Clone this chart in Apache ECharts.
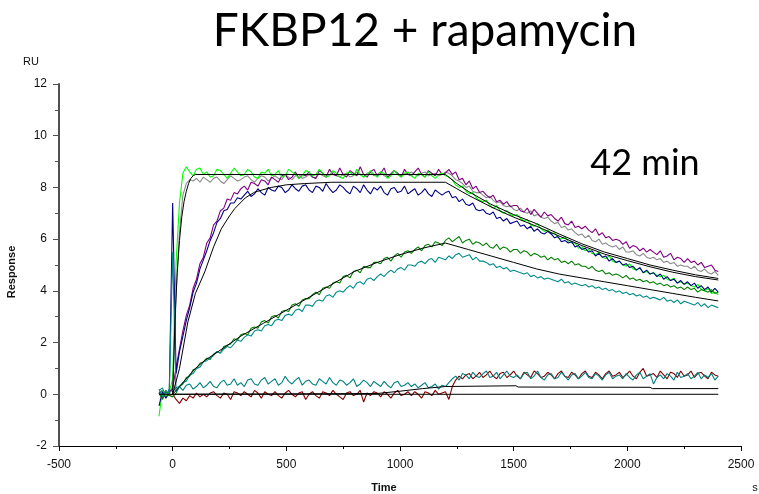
<!DOCTYPE html>
<html>
<head>
<meta charset="utf-8">
<script src="https://cdn.jsdelivr.net/npm/echarts@6/dist/echarts.min.js"></script>
<style>
  html, body { margin: 0; padding: 0; background: #fff; }
  #chart { width: 759px; height: 494px; }
</style>
</head>
<body>
<div id="chart"></div>
<script>
// Sensorgram sample times (s), one reading every 15 s
const seconds = [-60,-45,-30,-15,
  0,15,30,45,60,75,90,105,120,135,
  150,165,180,195,210,225,240,255,270,285,
  300,315,330,345,360,375,390,405,420,435,
  450,465,480,495,510,525,540,555,570,585,
  600,615,630,645,660,675,690,705,720,735,
  750,765,780,795,810,825,840,855,870,885,
  900,915,930,945,960,975,990,1005,1020,1035,
  1050,1065,1080,1095,1110,1125,1140,1155,1170,1185,
  1200,
  1215,1230,1245,1260,1275,1290,1305,1320,1335,1350,
  1365,1380,1395,1410,1425,1440,1455,1470,1485,1500,
  1515,1530,1545,1560,1575,1590,1605,1620,1635,1650,
  1665,1680,1695,1710,1725,1740,1755,1770,1785,1800,
  1815,1830,1845,1860,1875,1890,1905,1920,1935,1950,
  1965,1980,1995,2010,2025,2040,2055,2070,2085,2100,
  2115,2130,2145,2160,2175,2190,2205,2220,2235,2250,
  2265,2280,2295,2310,2325,2340,2355,2370,2385,2400];

// Response (RU) of each injection
const lime = [-0.85,0.15,-0.1,0.1,
  0.6,5.1,7.4,8.55,8.8,8.6,8.45,8.7,8.75,8.5,
  8.6,8.4,8.45,8.7,8.65,8.5,8.35,8.55,8.75,8.6,
  8.45,8.5,8.7,8.6,8.4,8.35,8.6,8.55,8.7,8.45,
  8.5,8.65,8.4,8.45,8.7,8.6,8.5,8.35,8.45,8.65,
  8.6,8.45,8.5,8.7,8.55,8.4,8.45,8.65,8.55,8.4,
  8.35,8.55,8.6,8.45,8.7,8.5,8.4,8.45,8.65,8.5,
  8.4,8.6,8.55,8.35,8.45,8.65,8.5,8.4,8.55,8.6,
  8.45,8.35,8.55,8.5,8.4,8.6,8.45,8.35,8.5,8.55,
  8.45,
  8.4,8.3,8.1,8.0,8.05,7.85,7.75,7.8,7.6,7.5,
  7.45,7.5,7.3,7.2,7.3,7.1,7.0,7.1,6.95,6.9,
  6.95,6.8,6.7,6.75,6.55,6.5,6.6,6.4,6.3,6.35,
  6.2,6.25,6.05,6.0,6.1,5.9,5.85,5.85,5.65,5.7,
  5.55,5.6,5.45,5.4,5.5,5.3,5.25,5.35,5.15,5.1,
  5.15,5.0,4.95,5.05,4.85,4.8,4.9,4.7,4.75,4.65,
  4.7,4.6,4.55,4.6,4.45,4.4,4.5,4.3,4.35,4.25,
  4.3,4.2,4.15,4.25,4.05,4.0,4.1,3.9,3.95,3.85];

const gray = [0.1,-0.05,0.15,0.0,
  0.3,3.9,6.3,7.7,8.15,8.3,8.25,8.35,8.2,8.4,
  8.3,8.2,8.35,8.4,8.25,8.15,8.3,8.45,8.35,8.25,
  8.3,8.4,8.45,8.3,8.2,8.35,8.45,8.4,8.25,8.35,
  8.45,8.35,8.3,8.5,8.4,8.3,8.45,8.5,8.35,8.4,
  8.5,8.4,8.35,8.55,8.45,8.4,8.5,8.6,8.45,8.4,
  8.5,8.55,8.4,8.45,8.6,8.5,8.4,8.55,8.6,8.45,
  8.5,8.6,8.45,8.4,8.55,8.65,8.5,8.45,8.55,8.5,
  8.6,8.5,8.45,8.55,8.6,8.45,8.5,8.55,8.45,8.5,
  8.6,
  8.55,8.45,8.3,8.25,8.15,8.0,8.05,7.85,7.8,7.8,
  7.7,7.6,7.65,7.5,7.4,7.45,7.3,7.25,7.3,7.15,
  7.1,7.2,7.05,7.0,7.1,6.9,6.95,6.85,6.8,6.85,
  6.7,6.6,6.65,6.45,6.5,6.35,6.4,6.25,6.15,6.2,
  6.05,6.15,5.95,5.9,6.0,5.8,5.85,5.75,5.7,5.75,
  5.6,5.7,5.5,5.5,5.55,5.4,5.35,5.45,5.3,5.25,
  5.3,5.2,5.25,5.1,5.15,5.05,5.1,4.95,5.0,4.95,
  4.95,4.85,4.95,4.8,4.75,4.85,4.7,4.65,4.75,4.6];

const purple = [0.05,0.15,-0.1,0.1,
  0.2,1.05,1.75,2.45,3.05,3.45,4.1,4.45,5.05,5.3,
  5.85,6.05,6.55,6.7,7.1,7.2,7.55,7.5,7.8,7.75,
  7.95,8.05,7.9,8.2,8.15,8.05,8.3,8.25,8.1,8.4,
  8.3,8.2,8.45,8.5,8.3,8.4,8.6,8.35,8.5,8.45,
  8.6,8.4,8.35,8.65,8.55,8.4,8.7,8.5,8.45,8.75,
  8.5,8.4,8.65,8.55,8.45,8.8,8.5,8.4,8.6,8.7,
  8.45,8.55,8.75,8.4,8.5,8.65,8.55,8.4,8.7,8.5,
  8.45,8.6,8.75,8.5,8.4,8.65,8.55,8.45,8.7,8.5,
  8.55,
  8.7,8.5,8.6,8.3,8.35,8.1,8.25,7.95,8.05,7.8,
  7.85,7.7,7.6,7.7,7.45,7.5,7.35,7.45,7.25,7.3,
  7.3,7.1,7.05,7.2,6.95,7.15,7.0,6.85,7.05,6.9,
  6.95,6.8,6.7,6.85,6.6,6.55,6.7,6.45,6.5,6.4,
  6.5,6.35,6.25,6.4,6.15,6.25,6.05,6.1,5.95,6.0,
  5.95,5.8,5.9,5.65,5.75,5.7,5.55,5.65,5.5,5.6,
  5.5,5.4,5.55,5.3,5.35,5.45,5.2,5.3,5.25,5.1,
  5.25,5.1,5.15,5.0,5.1,4.9,4.95,5.0,4.8,4.75];

const navy = [-0.45,0.1,-0.15,0.05,
  7.4,0.8,1.65,2.25,2.85,3.35,3.95,4.3,4.85,5.2,
  5.55,5.95,6.25,6.65,6.8,7.1,7.15,7.4,7.4,7.6,
  7.55,7.7,7.85,7.65,7.75,7.95,7.8,7.7,8.0,7.9,
  7.85,8.05,8.0,7.8,7.9,8.1,7.95,7.85,8.05,8.1,
  7.9,7.8,8.05,8.0,7.85,8.15,7.95,7.8,7.9,8.1,
  8.0,7.85,7.75,8.05,7.95,7.8,8.1,7.9,7.75,8.0,
  7.9,8.05,7.8,7.7,7.95,8.0,7.8,7.85,8.05,7.75,
  7.85,7.95,7.7,7.8,7.95,7.75,7.65,7.9,7.8,7.7,
  7.8,
  7.85,7.6,7.65,7.45,7.55,7.35,7.3,7.4,7.15,7.1,
  7.15,7.0,6.95,7.05,6.8,6.85,6.7,6.8,6.6,6.65,
  6.7,6.5,6.55,6.4,6.5,6.3,6.4,6.25,6.2,6.3,
  6.2,6.05,6.1,5.9,5.95,5.85,5.9,5.7,5.75,5.6,
  5.65,5.5,5.55,5.35,5.45,5.3,5.35,5.15,5.25,5.1,
  5.15,5.0,5.05,4.9,4.95,4.8,4.9,4.7,4.8,4.65,
  4.7,4.55,4.65,4.45,4.55,4.4,4.45,4.3,4.4,4.25,
  4.35,4.2,4.3,4.1,4.2,4.05,4.15,3.95,4.1,3.95];

const green = [0.05,-0.2,0.1,-0.05,
  -0.1,0.05,0.3,0.4,0.65,0.7,0.95,1.0,1.2,1.25,
  1.4,1.35,1.55,1.65,1.6,1.85,1.9,1.95,2.15,2.1,
  2.3,2.35,2.3,2.55,2.6,2.55,2.8,2.85,2.75,3.0,
  3.05,2.95,3.2,3.25,3.2,3.45,3.5,3.4,3.65,3.7,
  3.7,3.85,3.95,3.85,4.1,4.15,4.1,4.3,4.35,4.3,
  4.55,4.6,4.5,4.75,4.8,4.7,4.95,4.9,4.9,5.1,
  5.1,5.05,5.25,5.3,5.15,5.35,5.45,5.3,5.5,5.55,
  5.45,5.6,5.7,5.55,5.75,5.8,5.7,5.9,5.85,5.75,
  5.95,
  6.05,5.9,6.0,6.1,5.85,5.95,6.0,5.8,5.9,5.85,
  5.75,5.85,5.7,5.65,5.8,5.6,5.7,5.65,5.5,5.6,
  5.6,5.45,5.55,5.5,5.35,5.45,5.4,5.3,5.35,5.2,
  5.3,5.2,5.25,5.1,5.15,5.05,5.15,5.0,5.05,4.95,
  4.95,4.85,4.95,4.8,4.75,4.8,4.65,4.7,4.6,4.65,
  4.6,4.5,4.6,4.45,4.5,4.4,4.45,4.35,4.4,4.3,
  4.35,4.25,4.3,4.2,4.25,4.15,4.2,4.1,4.15,4.05,
  4.15,4.05,4.1,3.95,4.05,4.0,3.95,4.05,3.9,3.95];

const teal = [0.2,-0.1,0.15,0.0,
  5.5,0.1,0.3,0.45,0.5,0.75,0.8,1.0,1.05,1.25,
  1.3,1.4,1.5,1.65,1.6,1.75,1.85,1.8,1.95,2.1,
  2.05,2.2,2.3,2.25,2.45,2.5,2.45,2.65,2.7,2.65,
  2.85,2.9,2.85,3.05,3.1,3.05,3.25,3.3,3.2,3.45,
  3.45,3.4,3.6,3.65,3.6,3.8,3.85,3.75,3.95,4.0,
  3.95,4.1,4.2,4.1,4.3,4.35,4.25,4.45,4.5,4.4,
  4.55,4.65,4.55,4.7,4.8,4.7,4.85,4.9,4.8,5.0,
  5.0,4.95,5.1,5.15,5.05,5.2,5.25,5.1,5.3,5.25,
  5.2,
  5.35,5.25,5.4,5.45,5.3,5.35,5.4,5.2,5.3,5.15,
  5.15,5.1,5.0,5.05,4.9,4.95,4.85,4.9,4.75,4.8,
  4.75,4.7,4.65,4.7,4.55,4.6,4.5,4.55,4.45,4.5,
  4.45,4.4,4.35,4.45,4.3,4.35,4.25,4.3,4.25,4.2,
  4.25,4.15,4.2,4.1,4.15,4.05,4.1,4.0,4.05,3.95,
  4.0,3.9,3.95,3.85,3.9,3.8,3.85,3.75,3.8,3.7,
  3.75,3.7,3.65,3.75,3.6,3.65,3.55,3.65,3.5,3.6,
  3.55,3.5,3.45,3.55,3.4,3.5,3.35,3.45,3.4,3.35];

const tealLow = [0.15,0.25,-0.1,0.2,
  0.1,0.25,0.3,0.15,0.35,0.4,0.2,0.3,0.45,0.25,
  0.35,0.5,0.3,0.25,0.45,0.55,0.35,0.4,0.6,0.35,
  0.45,0.3,0.55,0.6,0.4,0.35,0.55,0.65,0.4,0.5,
  0.6,0.35,0.45,0.7,0.5,0.4,0.55,0.65,0.35,0.5,
  0.55,0.4,0.35,0.6,0.5,0.4,0.65,0.45,0.35,0.55,
  0.5,0.35,0.45,0.6,0.3,0.4,0.55,0.45,0.3,0.5,
  0.4,0.3,0.5,0.35,0.25,0.45,0.5,0.3,0.35,0.45,
  0.3,0.4,0.25,0.35,0.45,0.25,0.3,0.4,0.2,0.35,
  0.3,
  0.45,0.6,0.7,0.55,0.8,0.75,0.6,0.85,0.7,0.65,
  0.8,0.9,0.65,0.7,0.85,0.6,0.75,0.9,0.7,0.65,
  0.75,0.6,0.8,0.85,0.6,0.7,0.9,0.65,0.55,0.75,
  0.8,0.6,0.65,0.85,0.7,0.55,0.75,0.8,0.6,0.7,
  0.85,0.65,0.6,0.8,0.7,0.55,0.75,0.85,0.6,0.7,
  0.75,0.6,0.8,0.65,0.55,0.75,0.85,0.6,0.7,0.8,
  0.4,0.65,0.75,0.6,0.8,0.7,0.55,0.85,0.65,0.7,
  0.8,0.6,0.7,0.85,0.6,0.75,0.65,0.8,0.55,0.7];

const maroon = [0.05,-0.15,0.1,-0.05,
  0.0,-0.2,-0.35,-0.15,-0.25,-0.05,-0.15,0.05,-0.1,0.0,
  -0.1,0.05,0.1,-0.05,-0.15,0.05,0.0,-0.2,0.1,0.05,
  -0.05,0.1,0.0,-0.1,0.15,0.05,-0.15,0.1,0.0,-0.05,
  0.1,-0.05,-0.15,0.05,0.15,0.0,-0.1,0.05,0.1,-0.2,
  0.0,0.1,-0.05,-0.15,0.1,0.05,-0.05,0.15,0.0,-0.1,
  -0.2,0.05,0.1,-0.05,0.0,0.15,-0.3,0.05,-0.05,0.1,
  0.05,-0.1,0.1,0.0,-0.15,0.05,0.15,-0.05,0.0,0.1,
  -0.05,0.1,0.0,-0.15,0.1,0.05,-0.05,0.15,0.0,0.05,
  0.1,
  -0.2,0.3,0.55,0.7,0.6,0.75,0.8,0.6,0.7,0.85,
  0.65,0.75,0.9,0.7,0.6,0.8,0.85,0.65,0.75,0.9,
  0.7,0.6,0.85,0.75,0.65,0.9,0.8,0.65,0.7,0.85,
  0.75,0.6,0.8,0.9,0.7,0.65,0.85,0.75,0.6,0.8,
  0.9,0.7,0.65,0.85,0.75,0.6,0.8,0.9,0.7,0.75,
  0.85,0.65,0.75,0.9,0.7,0.6,0.85,1.0,0.7,0.75,
  0.8,0.65,0.9,0.75,0.6,0.85,0.8,0.65,0.9,0.7,
  0.75,0.9,0.65,0.8,0.85,0.7,0.6,0.85,0.75,0.7];

// Fitted 1:1 binding curves
const fitFastT = [0,10,20,30,40,50,60,70,80,90,100,1200,1250,1300,1400,1500,1600,1700,1800,1900,2000,2100,2200,2300,2400];
const fitFastV = [0,2.8,4.7,5.95,6.85,7.45,7.85,8.15,8.35,8.45,8.5,8.5,8.15,7.85,7.35,6.95,6.6,6.2,5.82,5.5,5.25,5.0,4.8,4.62,4.48];
const fitMidT = [0,30,67,100,141,180,214,250,273,320,361,434,500,581,700,1200,1250,1300,1400,1500,1600,1700,1800,1900,2000,2100,2200,2300,2400];
const fitMidV = [0,1.0,2.8,3.9,4.73,5.7,6.4,6.9,7.18,7.6,7.82,8.0,8.1,8.15,8.2,8.2,7.95,7.7,7.25,6.85,6.5,6.12,5.75,5.42,5.17,4.93,4.72,4.55,4.42];
const fitSlowT = [0,30,60,100,140,200,300,400,500,600,700,800,900,1000,1100,1200,1300,1400,1500,1600,1700,1800,1900,2000,2100,2200,2300,2400];
const fitSlowV = [0,0.3,0.6,1.0,1.3,1.65,2.25,2.75,3.25,3.75,4.25,4.75,5.1,5.4,5.65,5.85,5.6,5.35,5.1,4.85,4.65,4.5,4.35,4.2,4.05,3.9,3.75,3.61];
const fitLowT = [0,900,1000,1100,1200,1510,1520,2100,2110,2400];
const fitLowV = [0,0.03,0.12,0.22,0.3,0.33,0.28,0.27,0.22,0.22];
const fitBaseT = [-60,2400];
const fitBaseV = [0,0];

// Axis ticks
const xTicks = { min: -500, max: 2500, step: 500 };
const yTicks = { min: -2, max: 12, step: 2 };

const pairs = (ts, vs) => ts.map((t, i) => [t, vs[i]]);

const traces = [
  { name: 'maroon', color: '#800000', v: maroon },
  { name: 'tealLow', color: '#008080', v: tealLow },
  { name: 'gray', color: '#8a8a8a', v: gray },
  { name: 'purple', color: '#800080', v: purple },
  { name: 'lime', color: '#00ff00', v: lime },
  { name: 'navy', color: '#000080', v: navy },
  { name: 'green', color: '#008000', v: green },
  { name: 'teal', color: '#008b8b', v: teal }
];
const fits = [
  [fitBaseT, fitBaseV], [fitLowT, fitLowV], [fitSlowT, fitSlowV],
  [fitMidT, fitMidV], [fitFastT, fitFastV]
];

const series = traces.map(tr => ({
  name: tr.name, type: 'line', data: pairs(seconds, tr.v),
  showSymbol: false, symbol: 'none', silent: true,
  lineStyle: { color: tr.color, width: 1.1 }
})).concat(fits.map((f, k) => ({
  name: 'fit' + k, type: 'line', data: pairs(f[0], f[1]),
  showSymbol: false, symbol: 'none', silent: true,
  lineStyle: { color: '#000', width: 1 }
})));

const labelFont = { fontFamily: 'Liberation Sans, Arial, sans-serif', fontSize: 12, color: '#111' };

const chart = echarts.init(document.getElementById('chart'), null, { renderer: 'canvas' });
chart.setOption({
  animation: false,
  backgroundColor: '#fff',
  grid: { left: 59, right: 18, top: 84, bottom: 48 },
  xAxis: {
    type: 'value', min: xTicks.min, max: xTicks.max, interval: xTicks.step,
    axisLine: { show: true, onZero: false, lineStyle: { color: '#000', width: 1 } },
    axisTick: { show: true, length: 5, lineStyle: { color: '#000' } },
    minorTick: { show: true, splitNumber: 2, length: 3, lineStyle: { color: '#000' } },
    splitLine: { show: false },
    axisLabel: Object.assign({ margin: 13, formatter: v => String(v) }, labelFont)
  },
  yAxis: {
    type: 'value', min: yTicks.min, max: yTicks.max, interval: yTicks.step,
    axisLine: { show: true, onZero: false, lineStyle: { color: '#505050', width: 2 } },
    axisTick: { show: true, length: 6, lineStyle: { color: '#505050' } },
    minorTick: { show: true, splitNumber: 2, length: 4, lineStyle: { color: '#505050' } },
    splitLine: { show: false },
    axisLabel: Object.assign({ margin: 12, formatter: v => String(v) }, labelFont)
  },
  series: series,
  graphic: [
    { type: 'text', x: 425, y: 31, z: 10, style: { text: 'FKBP12 + rapamycin', fill: '#000', font: '46px Lato, "Noto Sans", sans-serif', align: 'center', verticalAlign: 'middle' } },
    { type: 'text', x: 645, y: 163, z: 10, style: { text: '42 min', fill: '#000', font: '36px Lato, "Noto Sans", sans-serif', align: 'center', verticalAlign: 'middle' } },
    { type: 'text', x: 23, y: 56, style: { text: 'RU', fill: '#111', font: '11px "Liberation Sans", Arial, sans-serif' } },
    { type: 'text', x: 12, y: 272, rotation: Math.PI / 2, style: { text: 'Response', fill: '#111', font: 'bold 11px "Liberation Sans", Arial, sans-serif', align: 'center', verticalAlign: 'middle' } },
    { type: 'text', x: 384, y: 488, style: { text: 'Time', fill: '#111', font: 'bold 11px "Liberation Sans", Arial, sans-serif', align: 'center', verticalAlign: 'middle' } },
    { type: 'text', x: 755, y: 488, style: { text: 's', fill: '#111', font: '11px "Liberation Sans", Arial, sans-serif', align: 'center', verticalAlign: 'middle' } }
  ]
});
</script>
</body>
</html>
